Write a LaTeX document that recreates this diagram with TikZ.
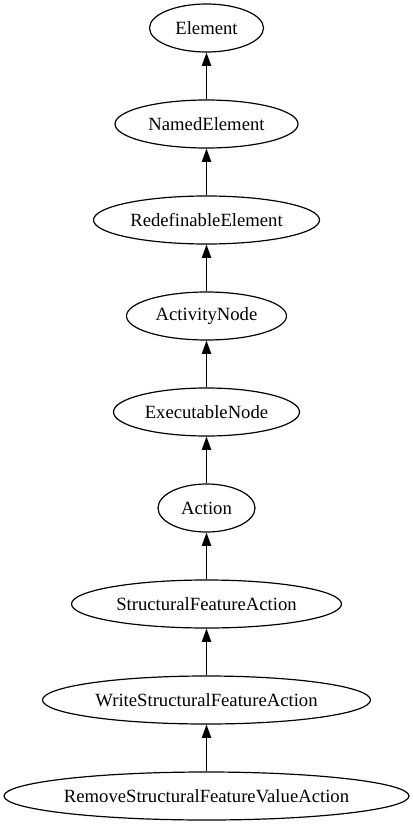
\documentclass[tikz,border=0pt]{standalone}
\usepackage{fontspec}
\setmainfont{Liberation Serif}
\usetikzlibrary{shapes.geometric,arrows.meta}
\begin{document}
\begin{tikzpicture}[x=0.75pt,y=-0.75pt,
  cls/.style={draw,ellipse,line width=0.9pt,inner sep=0pt,minimum height=36pt,font=\fontsize{14pt}{16pt}\selectfont},
  gen/.style={line width=0.9pt,-{Triangle[length=10pt,width=7pt]}}]
\useasboundingbox (0,0) rectangle (413,827);
\node[cls,minimum width=0.75*114pt] (e) at (206.5,28) {Element};
\node[cls,minimum width=0.75*183pt] (ne) at (206.5,124) {NamedElement};
\node[cls,minimum width=0.75*226pt] (re) at (206.5,220) {RedefinableElement};
\node[cls,minimum width=0.75*160pt] (an) at (206.5,316) {ActivityNode};
\node[cls,minimum width=0.75*186pt] (en) at (206.5,412) {ExecutableNode};
\node[cls,minimum width=0.75*97pt] (a) at (206.5,508) {Action};
\node[cls,minimum width=0.75*270pt] (sfa) at (206.5,604) {StructuralFeatureAction};
\node[cls,minimum width=0.75*328pt] (wsfa) at (206.5,700) {WriteStructuralFeatureAction};
\node[cls,minimum width=0.75*405pt] (rsfva) at (206.5,796) {RemoveStructuralFeatureValueAction};
\draw[gen] (ne) -- (e);
\draw[gen] (re) -- (ne);
\draw[gen] (an) -- (re);
\draw[gen] (en) -- (an);
\draw[gen] (a) -- (en);
\draw[gen] (sfa) -- (a);
\draw[gen] (wsfa) -- (sfa);
\draw[gen] (rsfva) -- (wsfa);
\end{tikzpicture}
\end{document}
